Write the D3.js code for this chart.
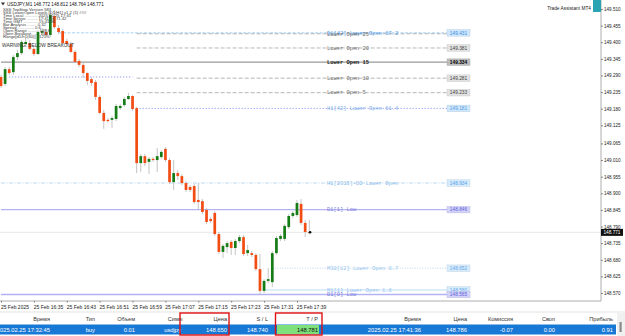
<!DOCTYPE html>
<html><head><meta charset="utf-8">
<script src="https://cdn.jsdelivr.net/npm/d3@7"></script>
<style>
html,body{margin:0;padding:0;background:#fff;overflow:hidden}
svg{display:block}
text{font-family:"Liberation Sans",Arial,sans-serif}
</style></head><body>
<svg id="c" width="625" height="336"></svg>
<script>
// ---------------- DATA ----------------
const symbolTitle = "USDJPY,M1  148.772 148.812 148.764 148.771";
const opens  = [149.285,149.262,149.311,149.301,149.351,149.364,149.394,149.397,149.378,149.361,149.431,149.434,149.424,149.487,149.447,149.437,149.404,149.394,149.368,149.338,149.325,149.298,149.278,149.268,149.219,149.166,149.143,149.143,149.146,149.182,149.192,149.212,149.222,149.182,149.000,149.023,149.004,149.014,149.010,149.020,149.047,149.010,148.937,148.967,148.957,148.934,148.921,148.924,148.878,148.874,148.845,148.815,148.835,148.765,148.706,148.722,148.739,148.719,148.742,148.755,148.702,148.702,148.696,148.649,148.577,148.610,148.606,148.702,148.749,148.749,148.788,148.825,148.828,148.865,148.802,148.772];
const highs  = [149.292,149.318,149.318,149.358,149.374,149.407,149.414,149.407,149.384,149.440,149.447,149.444,149.500,149.507,149.457,149.444,149.411,149.401,149.374,149.345,149.335,149.301,149.285,149.275,149.225,149.176,149.149,149.156,149.196,149.196,149.219,149.232,149.225,149.186,149.030,149.030,149.020,149.020,149.050,149.043,149.053,149.017,149.010,148.977,148.964,148.941,148.927,148.931,148.934,148.881,148.851,148.822,148.841,148.772,148.732,148.742,148.745,148.749,148.762,148.762,148.729,148.709,148.702,148.699,148.616,148.653,148.709,148.759,148.765,148.798,148.831,148.841,148.878,148.881,148.812,148.812];
const lows   = [149.249,149.255,149.292,149.292,149.341,149.358,149.384,149.374,149.354,149.358,149.424,149.417,149.417,149.444,149.427,149.391,149.388,149.364,149.331,149.318,149.282,149.258,149.255,149.209,149.162,149.113,149.133,149.116,149.139,149.176,149.186,149.209,149.172,148.967,148.970,148.990,148.964,149.004,148.970,149.014,149.004,148.931,148.911,148.944,148.927,148.904,148.904,148.865,148.845,148.831,148.798,148.802,148.759,148.699,148.686,148.702,148.696,148.696,148.735,148.692,148.692,148.689,148.643,148.565,148.570,148.603,148.590,148.696,148.742,148.742,148.782,148.818,148.822,148.795,148.755,148.764];
const closes = [149.255,149.311,149.298,149.351,149.364,149.401,149.401,149.378,149.361,149.434,149.437,149.424,149.490,149.450,149.434,149.397,149.394,149.368,149.335,149.325,149.298,149.272,149.265,149.219,149.166,149.139,149.139,149.149,149.189,149.189,149.212,149.222,149.179,149.000,149.023,149.000,149.014,149.010,149.023,149.037,149.010,148.937,148.967,148.957,148.934,148.911,148.911,148.871,148.871,148.838,148.805,148.808,148.765,148.706,148.726,148.735,148.719,148.742,148.755,148.699,148.712,148.696,148.649,148.577,148.610,148.616,148.702,148.752,148.759,148.792,148.825,148.835,148.868,148.802,148.772,148.771];

const timeTickIdx    = [0,8,16,24,32,40,48,56,64,72];
const timeTickLabels = ["25 Feb 2025","25 Feb 16:35","25 Feb 16:43","25 Feb 16:51","25 Feb 16:59","25 Feb 17:07","25 Feb 17:15","25 Feb 17:23","25 Feb 17:31","25 Feb 17:39"];
const priceTicks = [149.510,149.455,149.400,149.345,149.290,149.235,149.180,149.125,149.065,149.010,148.955,148.900,148.845,148.790,148.735,148.680,148.625,148.570];
const lastPrice = 148.771;

const levelPrices = [149.431,149.428,149.381,149.334,149.281,149.233,149.181,149.285,148.934,148.846,148.652,148.580,148.565];
const levelNames  = ["D1[42] Lower Open 67.2","Lower Open 25","Lower Open 20","Lower Open 15","Lower Open 10","Lower Open 5","H1[42] Lower Open 61.4","","H1[2315]-DD Lower Open","D1[1] Low","M30[12] Lower Open 0.7","M1[1] Lower Open 1.6","D1[0] Low"];
const levelFromBar = [14,33,33,0,33,33,33,2,0,0,66,64,0];
const levelKinds  = ["d1open","lower","lower","lowerMain","lower","lower","h1open","h1prev","dd","d1low","m30","m1","d1low"];

const infoLines = ["SSS TopStop Version 583","SSS LowerOpen Levels [D1/H1] v1.2 (1) ###","Time Local ........... 2025.02.25 17:41","Time Server ......... 17:41:36  71.42","Time GMT ............ 15:41:36","Bar Analysis ........ 0.32","Spread .............. 0.6","Open Range ......... 148.6","Open Breakout ...... 148","Range[d1/h1(60)] : 121%"];
const warningText = "WARNING: BELOW BREAKOUT";

const tableHeaders = ["Время","Тип","Объем","Символ","Цена","S / L","T / P","Время","Цена","Комиссия","Своп","Прибыль"];
const tableRow     = ["2025.02.25 17:32:45","buy","0.01","usdjpy","148.650","148.740","148.781","2025.02.25 17:41:36","148.786","-0.07","0.00","0.91"];

// ---------------- LAYOUT / STYLE ----------------
const svg = d3.select("#c");
const plotRight = 601, plotBottom = 301, boxX = 447;
const x = d3.scaleLinear().domain([0, 75]).range([1, 309.3]);
const y = d3.scaleLinear().domain([148.570, 149.510]).range([293, 9]);
const UP = "#167c16", DN = "#f24c13", WICK = "#b5b5b5";
const MONO = "'Liberation Mono','DejaVu Sans Mono',monospace";

const styles = {
  d1open:   {stroke:"#8ec5f3", dash:"3,1.5", w:0.8, txt:"#5aa0e8", box:"#cfe7fc", boxTxt:"#3d8ee0"},
  lower:    {stroke:"#a3a3a3", dash:"4,2",   w:0.8, txt:"#6e6e6e", box:"#e2e2e2", boxTxt:"#444"},
  lowerMain:{stroke:"#9a9a9a", dash:null,    w:1.3, txt:"#222",    box:"#bdbdbd", boxTxt:"#000", bold:true},
  h1open:   {stroke:"#7b83ee", dash:"1,2",   w:1,   txt:"#7fb0e8", box:"#cfe7fc", boxTxt:"#5b9be0"},
  h1prev:   {stroke:"#7b83ee", dash:"1,2",   w:1},
  dd:       {stroke:"#a5cff2", dash:"4,1.5,1,1.5", w:0.8, txt:"#8fbde8", box:"#d6ebfc", boxTxt:"#5aa0e8"},
  d1low:    {stroke:"#b3b3f2", dash:null,    w:1.3, txt:"#7c7ce0", box:"#d3d3fa", boxTxt:"#6060d6"},
  m30:      {stroke:"#a5cff2", dash:"1,1.5", w:0.8, txt:"#9cc6ee", box:"#d6ebfc", boxTxt:"#6aa8e8"},
  m1:       {stroke:"#bcdcf8", dash:null,    w:1,   txt:"#9cc6ee", box:"#d6ebfc", boxTxt:"#6aa8e8"}
};

// background
svg.append("rect").attr("width",625).attr("height",336).attr("fill","#fff");

// current price line
svg.append("line").attr("x1",0).attr("x2",plotRight).attr("y1",y(lastPrice)).attr("y2",y(lastPrice))
  .attr("stroke","#e2e2e2").attr("stroke-width",0.8);

// level lines
const levels = levelPrices.map((p,i)=>({p, name:levelNames[i], from:levelFromBar[i], kind:levelKinds[i]}));
const lg = svg.append("g");
levels.forEach(L=>{
  const s = styles[L.kind];
  const x2 = L.kind==="h1prev" ? x(32) : boxX;
  lg.append("line").attr("x1",x(L.from)).attr("x2",x2).attr("y1",y(L.p)).attr("y2",y(L.p))
    .attr("stroke",s.stroke).attr("stroke-width",s.w).attr("stroke-dasharray",s.dash);
});

// candles
const candles = opens.map((o,i)=>({i,o,h:highs[i],l:lows[i],c:closes[i]}));
const cg = svg.append("g");
cg.selectAll("line.w").data(candles).join("line")
  .attr("x1",d=>x(d.i)).attr("x2",d=>x(d.i)).attr("y1",d=>y(d.h)).attr("y2",d=>y(d.l))
  .attr("stroke",WICK).attr("stroke-width",0.8);
cg.selectAll("rect.b").data(candles).join("rect")
  .attr("x",d=>x(d.i)-1.35).attr("width",2.7)
  .attr("y",d=>y(Math.max(d.o,d.c)))
  .attr("height",d=>Math.max(0.8, Math.abs(y(d.o)-y(d.c))))
  .attr("fill",d=>d.c>=d.o?UP:DN);
// last price dot
svg.append("circle").attr("cx",x(75)+0.8).attr("cy",y(lastPrice)).attr("r",1.3).attr("fill","#111");

// level labels and price boxes
levels.forEach(L=>{
  const s = styles[L.kind];
  if (L.name) {
    svg.append("text").attr("x",327).attr("y",y(L.p)+1.8).text(L.name)
      .style("font-family",MONO).style("font-size","5.4px")
      .style("font-weight",s.bold?"bold":"normal").attr("fill",s.txt);
  }
  if (!s.box || L.name==="Lower Open 25") return;
  svg.append("rect").attr("x",boxX).attr("y",y(L.p)-3.3).attr("width",23).attr("height",6.6)
    .attr("fill",s.box).attr("stroke",d3.color(s.box).darker(0.4)).attr("stroke-width",0.4);
  svg.append("text").attr("x",boxX+11.5).attr("y",y(L.p)+1.7).attr("text-anchor","middle")
    .attr("font-size",4.8).attr("font-weight",s.bold?"bold":null).attr("fill",s.boxTxt)
    .text(d3.format(".3f")(L.p));
});

// plot borders
svg.append("line").attr("x1",plotRight).attr("x2",plotRight).attr("y1",0).attr("y2",plotBottom).attr("stroke","#9a9a9a").attr("stroke-width",0.8);
svg.append("line").attr("x1",0).attr("x2",plotRight).attr("y1",plotBottom).attr("y2",plotBottom).attr("stroke","#9a9a9a").attr("stroke-width",0.8);

// right price axis
const ya = svg.append("g").attr("transform",`translate(${plotRight},0)`)
  .call(d3.axisRight(y).tickValues(priceTicks).tickFormat(d3.format(".3f")).tickSize(1.8).tickPadding(1.2));
ya.select(".domain").remove();
ya.selectAll("line").attr("stroke","#777");
ya.selectAll("text").attr("font-size",4.6).attr("fill","#222");
// last price tag
svg.append("rect").attr("x",plotRight).attr("y",y(lastPrice)-3.4).attr("width",22).attr("height",7).attr("fill","#111");
svg.append("text").attr("x",plotRight+11).attr("y",y(lastPrice)+1.7).attr("text-anchor","middle")
  .attr("font-size",4.7).attr("fill","#fff").text(d3.format(".3f")(lastPrice));

// time axis
const xa = svg.append("g").attr("transform",`translate(0,${plotBottom})`)
  .call(d3.axisBottom(x).tickValues(timeTickIdx).tickFormat((d,i)=>timeTickLabels[i]).tickSize(1.5).tickPadding(3));
xa.select(".domain").remove();
xa.selectAll("line").attr("stroke","#777");
xa.selectAll("text").attr("text-anchor","start").attr("dx","-0.6").attr("font-size",5).attr("fill","#222");

// top-left info
svg.append("path").attr("d","M1,2.5 L5,2.5 L3,5.5 Z").attr("fill","#333");
svg.append("text").attr("x",7).attr("y",5.6).attr("font-size",4.6).attr("fill","#111").text(symbolTitle);
svg.append("g").selectAll("text").data(infoLines).join("text")
  .attr("x",3).attr("y",(d,i)=>11+i*2.95).attr("font-size",4.2).attr("fill","#3a3a3a").text(d=>d);
svg.append("text").attr("x",2).attr("y",46.5).attr("font-size",4.9).attr("fill","#333").text(warningText);

// Trade assistant
svg.append("text").attr("x",591).attr("y",10).attr("text-anchor","end").attr("font-size",4.8).attr("fill","#222").text("Trade Assistant MT4");
svg.append("rect").attr("x",593).attr("y",0).attr("width",8).attr("height",12).attr("fill","#2aa3b3");

// ---------------- TABLE ----------------
const colRight = [50,95,135,181,227,268,318,421,467,513,555,613];
svg.append("line").attr("x1",0).attr("x2",625).attr("y1",312).attr("y2",312).attr("stroke","#d0d0d0").attr("stroke-width",0.6);
svg.append("rect").attr("x",0).attr("y",324.5).attr("width",616).attr("height",10).attr("fill","#1878d6");
svg.append("rect").attr("x",277).attr("y",325).attr("width",42).attr("height",9).attr("fill","#7de07a");
const clip = svg.append("clipPath").attr("id","symclip");
clip.append("rect").attr("x",140).attr("y",312).attr("width",42.5).attr("height",10);
const th = svg.append("g");
tableHeaders.forEach((h,i)=>{
  th.append("text").attr("x",i===3?188:colRight[i]).attr("y",321).attr("text-anchor","end")
    .attr("font-size",5.6).attr("fill","#333").attr("clip-path",i===3?"url(#symclip)":null).text(h);
});
tableRow.forEach((v,i)=>{
  svg.append("text").attr("x",colRight[i]).attr("y",331.6).attr("text-anchor","end")
    .attr("font-size",5.8).attr("fill",i===6?"#111":"#fff").text(v);
});
// scrollbar
svg.append("rect").attr("x",617).attr("y",313).attr("width",8).attr("height",23).attr("fill","#f0f0f0");
svg.append("rect").attr("x",619.5).attr("y",322).attr("width",2.2).attr("height",10).attr("fill","#8a8a8a");
// red highlight boxes
svg.append("rect").attr("x",180).attr("y",313).attr("width",49).attr("height",22).attr("fill","none").attr("stroke","#e01010").attr("stroke-width",1.4);
svg.append("rect").attr("x",275.5).attr("y",313).attr("width",46.5).attr("height",22).attr("fill","none").attr("stroke","#e01010").attr("stroke-width",1.4);
</script>
</body></html>
